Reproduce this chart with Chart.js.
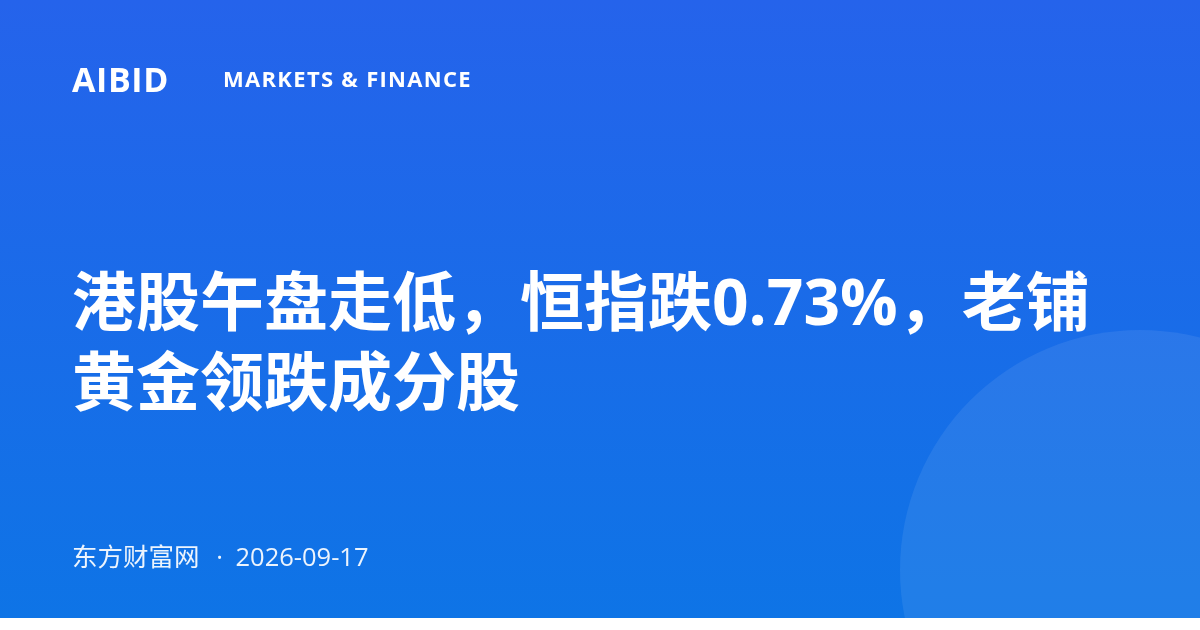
<!DOCTYPE html>
<html>
<head>
<meta charset="utf-8">
<script src="https://cdn.jsdelivr.net/npm/chart.js@4"></script>
<style>
  html, body { margin: 0; padding: 0; background: #fff; }
  .card {
    position: relative;
    width: 1200px;
    height: 618px;
    overflow: hidden;
    background: linear-gradient(to bottom, #2563eb 0%, #0e74e6 100%);
    font-family: "Open Sans", "Noto Sans CJK SC", sans-serif;
    color: #fff;
  }
  #deco { position: absolute; left: 0; top: 0; }
  .brand { position: absolute; left: 72px; top: 56px; font-size: 34px; font-weight: 700; letter-spacing: 0.6px; }
  .section { position: absolute; left: 223px; top: 63px; font-size: 22px; font-weight: 700; letter-spacing: 1.3px; }
  .title {
    position: absolute; left: 72px; top: 261px; width: 1100px;
    font-size: 64px; font-weight: 700; line-height: 80px;
  }
  .footer { position: absolute; left: 72px; top: 536px; font-size: 25.5px; color: rgba(255,255,255,0.92); }
  .footer .dot { margin: 0 6px 0 10px; }
</style>
</head>
<body>
<div class="card">
  <canvas id="deco" width="1200" height="618"></canvas>
  <div class="brand" id="brand"></div>
  <div class="section" id="section"></div>
  <div class="title" id="title"></div>
  <div class="footer"><span id="source"></span><span class="dot"> · </span><span id="date"></span></div>
</div>
<script>
// Page texts
const brand = 'AIBID';
const section = 'MARKETS & FINANCE';
const titleLines = ['港股午盘走低，恒指跌0.73%，老铺', '黄金领跌成分股'];
const source = '东方财富网';
const date = '2026-09-17';

// Decorative circle, in card pixels
const circleX = [1140];
const circleY = [570];
const circleR = [240];

document.getElementById('brand').textContent = brand;
document.getElementById('section').textContent = section;
document.getElementById('title').innerHTML = titleLines.join('<br>');
document.getElementById('source').textContent = source;
document.getElementById('date').textContent = date;

const ctx = document.getElementById('deco').getContext('2d');

new Chart(ctx, {
    type: 'bubble',
    data: {
        datasets: [{
            data: circleX.map((x, i) => ({ x: x, y: circleY[i], r: circleR[i] })),
            backgroundColor: 'rgba(255,255,255,0.08)',
            borderWidth: 0,
            hoverRadius: 0,
            clip: false
        }]
    },
    options: {
        responsive: false,
        animation: false,
        devicePixelRatio: 1,
        layout: { padding: 0, autoPadding: false },
        scales: {
            x: { type: 'linear', min: 0, max: 1200, display: false },
            y: { type: 'linear', min: 0, max: 618, reverse: true, display: false }
        },
        plugins: {
            legend: { display: false },
            tooltip: { enabled: false }
        }
    }
});
</script>
</body>
</html>
